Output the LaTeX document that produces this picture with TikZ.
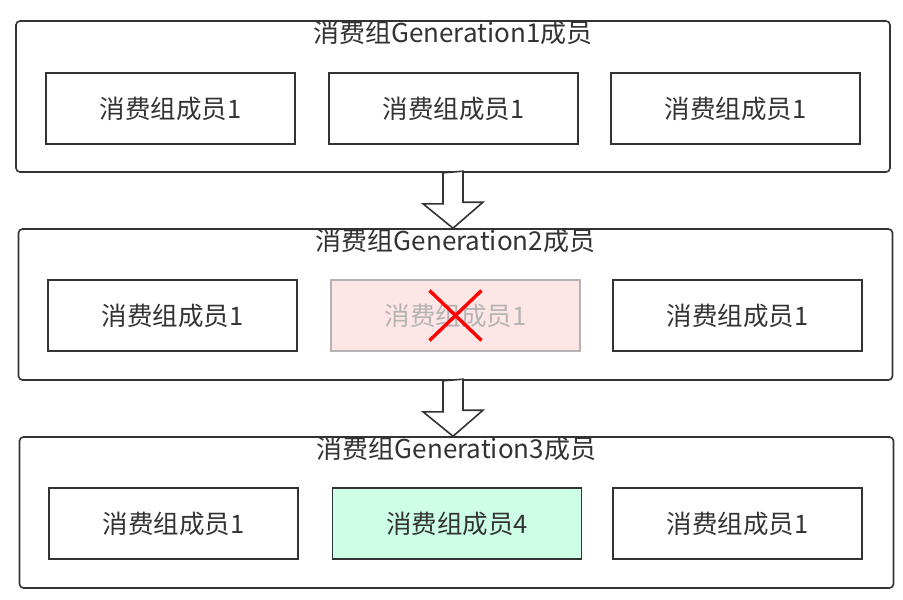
\documentclass[tikz,border=0pt]{standalone}
\usepackage{fontspec}
\setmainfont{Noto Sans CJK SC}
\definecolor{linegray}{HTML}{333333}
\definecolor{deadfill}{HTML}{FFE6E6}
\definecolor{deadline}{HTML}{B3B3B3}
\definecolor{newfill}{HTML}{CCFFE6}
\tikzset{
	genbox/.style={draw=linegray, rounded corners=4pt, line width=1.6pt, fill=white, minimum width=874pt, minimum height=151pt},
	gentitle/.style={anchor=north, inner sep=0pt, text=linegray, font=\fontsize{26}{30}\selectfont},
	member/.style={draw=linegray, line width=1.6pt, fill=white, minimum width=249pt, minimum height=71pt, text=linegray, font=\fontsize{25.5}{30}\selectfont},
	deadmember/.style={member, draw=deadline, fill=deadfill, text=deadline},
	newmember/.style={member, fill=newfill},
	blockarrow/.style={draw=linegray, line width=1.6pt, fill=white, line join=miter}
}
\begin{document}
\begin{tikzpicture}[x=1pt, y=-1pt]
	\useasboundingbox (0,0) rectangle (903,600);

	% generation 1
	\node[genbox] (g1) at (453,96.5) {};
	\node[gentitle] (t1) at (g1.north) {消费组Generation1成员};
	\node[member] (g1a) at (170.5,108.5) {消费组成员1};
	\node[member] (g1b) at (453.5,108.5) {消费组成员1};
	\node[member] (g1c) at (735.5,108.5) {消费组成员1};

	% generation 2
	\node[genbox] (g2) at (455.5,304.5) {};
	\node[gentitle] (t2) at (g2.north) {消费组Generation2成员};
	\node[member] (g2a) at (172.5,315.5) {消费组成员1};
	\node[deadmember] (g2b) at (455.5,315.5) {消费组成员1};
	\node[member] (g2c) at (737.5,315.5) {消费组成员1};
	\draw[red, line width=3.4pt] (g2b.center) ++(-26,-25) -- ++(52,50);
	\draw[red, line width=3.4pt] (g2b.center) ++(26,-25) -- ++(-52,50);

	% generation 3
	\node[genbox] (g3) at (456.5,512.5) {};
	\node[gentitle] (t3) at (g3.north) {消费组Generation3成员};
	\node[member] (g3a) at (173.5,523.5) {消费组成员1};
	\node[newmember] (g3b) at (457,523.5) {消费组成员4};
	\node[member] (g3c) at (737.5,523.5) {消费组成员1};

	% rebalance arrows
	\draw[blockarrow] (g1.south) ++(-10,0) -- ++(0,31) -- ++(-20,0) -- (g2.north -| g1.south) -- ++(30,-26) -- ++(-20,0) -- ++(0,-31) -- cycle;
	\draw[blockarrow] (g2.south -| g1.south) ++(-10,0) -- ++(0,31) -- ++(-20,0) -- (g3.north -| g1.south) -- ++(30,-26) -- ++(-20,0) -- ++(0,-31) -- cycle;
\end{tikzpicture}
\end{document}
